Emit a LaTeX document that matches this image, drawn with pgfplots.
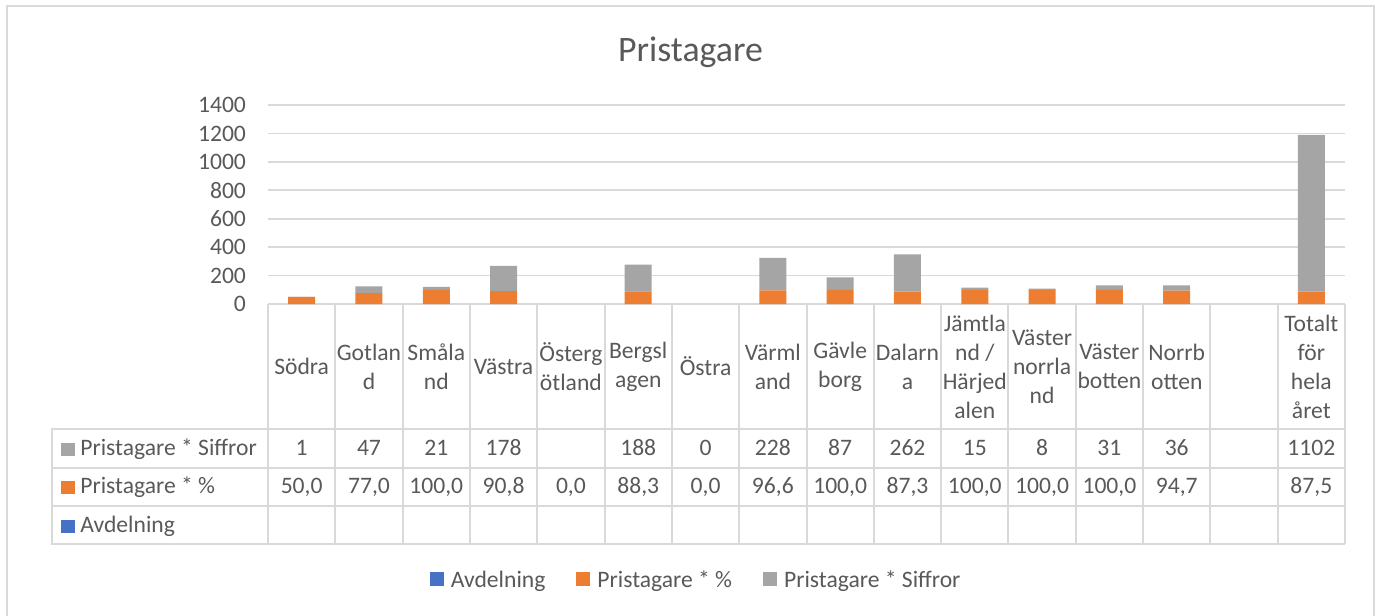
\documentclass[border=0pt]{standalone}
\usepackage{pgfplots}
\pgfplotsset{compat=1.18}
\usepackage{fontspec}
\setmainfont{Carlito}
\definecolor{cblue}{HTML}{4472C4}
\definecolor{corange}{HTML}{ED7D31}
\definecolor{cgray}{HTML}{A5A5A5}
\definecolor{ctext}{HTML}{595959}
\definecolor{cgrid}{HTML}{D9D9D9}
\newcommand\fs{\fontsize{11.8}{14.5}\selectfont}
\begin{document}
\begin{tikzpicture}
\useasboundingbox (0,0) rectangle (689.5pt,-307.5pt);
\begin{scope}
\clip (0,0) rectangle (689.5pt,-307.5pt);
\draw[cgrid, line width=1pt] (3.5pt,-3.25pt) rectangle (687pt,-320pt);
\end{scope}
\begin{axis}[
 at={(134pt,-152pt)}, anchor=south west,
 scale only axis, width=538.5pt, height=99.5pt,
 xmin=-0.5, xmax=15.5, ymin=0, ymax=1400,
 ytick={0,200,...,1400}, xtick=\empty,
 scaled y ticks=false,
 ymajorgrids, grid style={cgrid, line width=0.9pt},
 axis line style={draw=none}, major tick length=0pt,
 yticklabel style={font=\fs, text=ctext, xshift=-7.5pt, /pgf/number format/1000 sep={}},
 /pgf/number format/assume math mode=true,
 ybar stacked, bar width=13.5pt,
 legend style={at={(0.3985,-1.392)}, anchor=center, draw=none, font=\fs, text=ctext,
   legend columns=3,
   /tikz/every odd column/.append style={column sep=1.5pt},
   /tikz/every even column/.append style={column sep=13.5pt}},
 legend image code/.code={\fill[#1] (0pt,-2.5pt) rectangle (7pt,4.5pt);},
]
\addlegendimage{fill=cblue, draw=none}
\addlegendentry{Avdelning}
\addplot[fill=corange, draw=none] coordinates {
 (0,50.0) (1,77.0) (2,100.0) (3,90.8) (4,0.0) (5,88.3) (6,0.0) (7,96.6)
 (8,100.0) (9,87.3) (10,100.0) (11,100.0) (12,100.0) (13,94.7) (15,87.5)};
\addlegendentry{Pristagare * \%}
\addplot[fill=cgray, draw=none] coordinates {
 (0,1) (1,47) (2,21) (3,178) (4,0) (5,188) (6,0) (7,228)
 (8,87) (9,262) (10,15) (11,8) (12,31) (13,36) (15,1102)};
\addlegendentry{Pristagare * Siffror}
\end{axis}
\begin{scope}[x=0.5pt,y=-0.5pt]
\begin{scope}[cgrid, line width=1pt]
\foreach \k in {0,...,16} \draw (268+67.3125*\k,304) -- (268+67.3125*\k,544);
\draw (52,429) rectangle (268,544);
\draw (52,429) -- (1345,429);
\draw (52,467.5) -- (1345,467.5);
\draw (52,506) -- (1345,506);
\draw (52,544) -- (1345,544);
\end{scope}
\node[anchor=base, font=\fontsize{17.9}{20}\selectfont, text=ctext] at (690.5,62) {Pristagare};
\foreach \i/\t in {0/{Södra}, 1/{Gotlan\\d}, 2/{Småla\\nd}, 3/{Västra}, 4/{Österg\\ötland},
  5/{Bergsl\\agen}, 6/{Östra}, 7/{Värml\\and}, 8/{Gävle\\borg}, 9/{Dalarn\\a},
  10/{Jämtla\\nd /\\Härjed\\alen}, 11/{Väster\\norrla\\nd}, 12/{Väster\\botten},
  13/{Norrb\\otten}, 15/{Totalt\\för\\hela\\året}}
  \node[align=center, font=\fs, text=ctext, inner sep=0pt] at (268+67.3125*\i+33.656,366.5) {\t};
\foreach \i/\v in {0/1,1/47,2/21,3/178,5/188,6/0,7/228,8/87,9/262,10/15,11/8,12/31,13/36,15/1102}
  \node[anchor=base, font=\fs, text=ctext, inner sep=0pt] at (268+67.3125*\i+33.656,455) {\v};
\foreach \i/\v in {0/{50,0},1/{77,0},2/{100,0},3/{90,8},4/{0,0},5/{88,3},6/{0,0},7/{96,6},8/{100,0},9/{87,3},10/{100,0},11/{100,0},12/{100,0},13/{94,7},15/{87,5}}
  \node[anchor=base, font=\fs, text=ctext, inner sep=0pt] at (268+67.3125*\i+33.656,493.5) {\v};
\fill[cgray] (61,442.5) rectangle (75,455.5);
\node[anchor=base west, font=\fs, text=ctext, inner sep=0pt] at (80,455) {Pristagare * Siffror};
\fill[corange] (61,481) rectangle (75,494);
\node[anchor=base west, font=\fs, text=ctext, inner sep=0pt] at (80,493.5) {Pristagare * \%};
\fill[cblue] (61,519.5) rectangle (75,532.5);
\node[anchor=base west, font=\fs, text=ctext, inner sep=0pt] at (80,532) {Avdelning};
\end{scope}
\end{tikzpicture}
\end{document}
